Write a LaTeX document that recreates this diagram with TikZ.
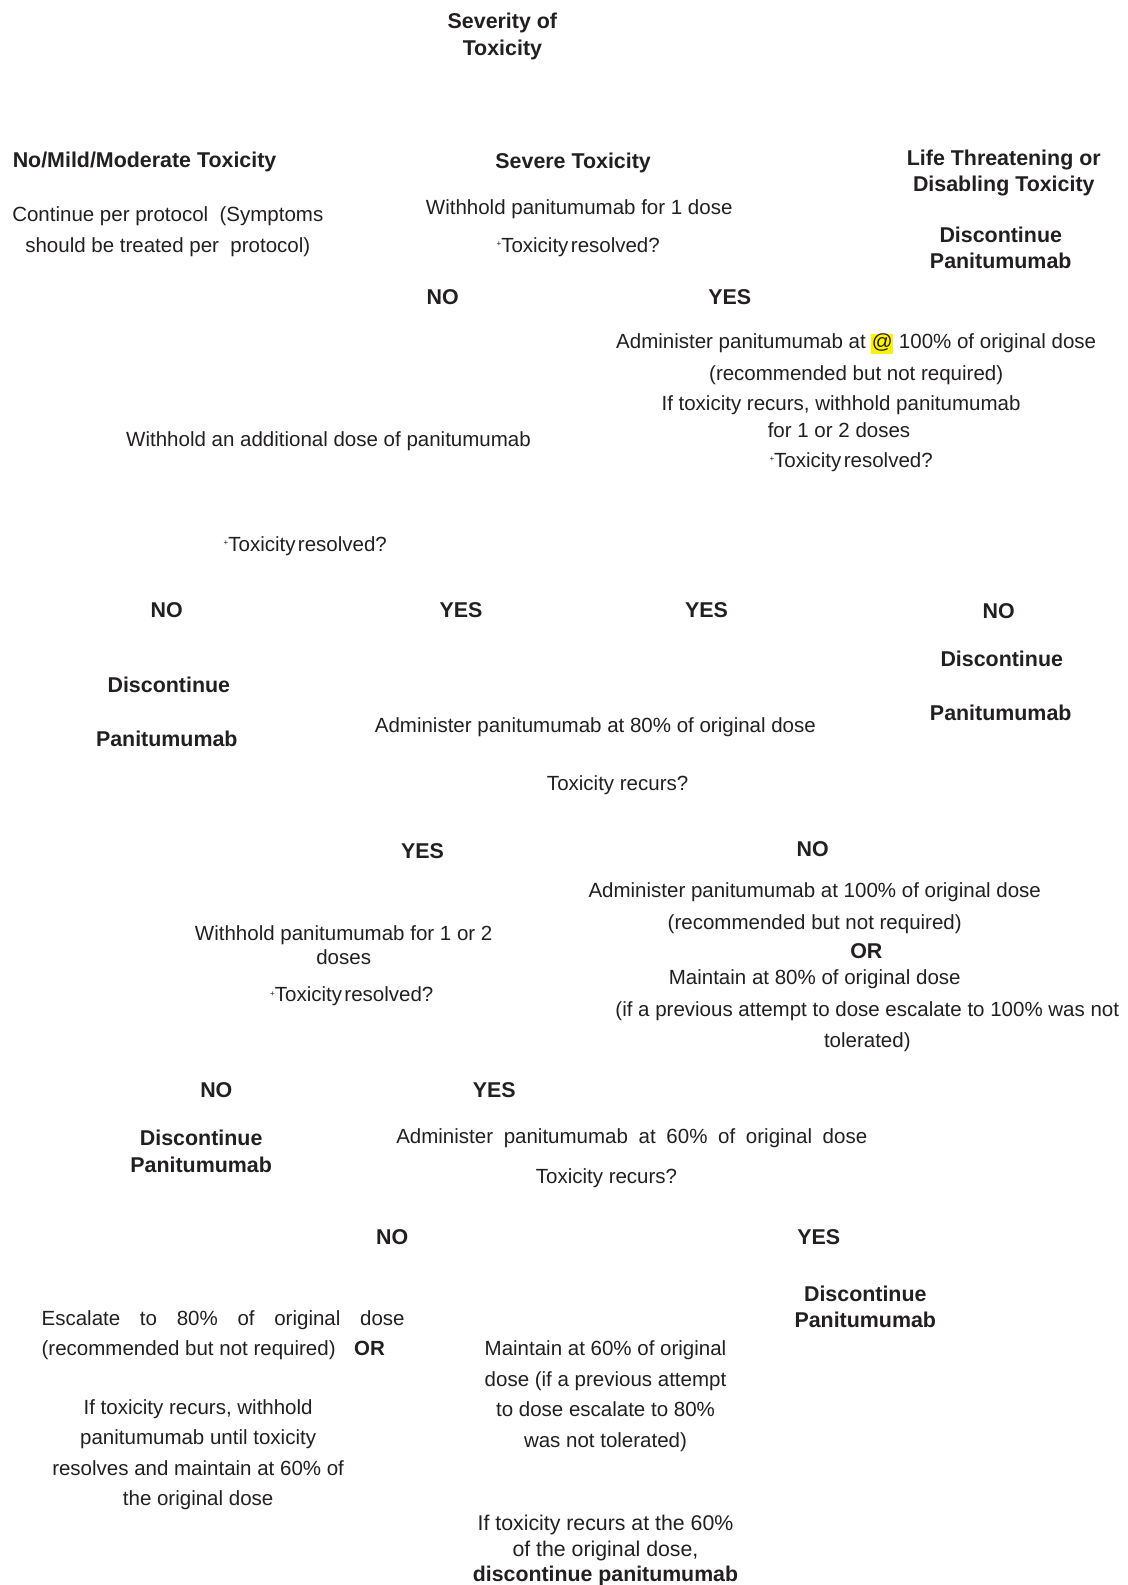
\documentclass[tikz,border=0pt]{standalone}
\usepackage{fontspec}
\setmainfont{Liberation Sans}
\definecolor{ink}{HTML}{231F20}
\definecolor{hlyel}{HTML}{FFF200}
\newcommand\plusmark{\raisebox{0.55ex}{\fontsize{8}{8}\selectfont +}}
\newcommand\hlat{{\setlength{\fboxsep}{0.5pt}\colorbox{hlyel}{\vphantom{Ag}@}}}
\tikzset{
  txt/.style={inner sep=0pt, text=ink, align=center, font=\fontsize{20.5}{30.5}\selectfont},
  hd/.style={inner sep=0pt, text=ink, align=center, font=\fontsize{21.4}{26.3}\selectfont\bfseries},
  tight/.style={txt, font=\fontsize{20.5}{23.5}\selectfont},
  lastblk/.style={txt, font=\fontsize{21.3}{25.5}\selectfont}
}
\begin{document}
\begin{tikzpicture}[x=1.0108pt,y=-1.0108pt, every node/.append style={yshift=-2pt}]
\useasboundingbox[fill=white] (0,0) rectangle (1115,1568);
% headings
\node[hd] (sev) at (497,34) {Severity of\\Toxicity};
\node[hd] (mild) at (143,158) {No/Mild/Moderate Toxicity};
\node[hd] (severe) at (567,159) {Severe Toxicity};
\node[hd] (life) at (993,169) {Life Threatening or\\Disabling Toxicity};
% first row
\node[txt] (cont) at (166,227) {Continue per protocol\ \ (Symptoms\\should be treated per\ \ protocol)};
\node[txt] (w1) at (573,205) {Withhold panitumumab for 1 dose};
\node[txt] (tr1) at (572,243) {\plusmark Toxicity\hspace{0.12em}resolved?};
\node[hd] (disc1) at (990,243) {Discontinue\\Panitumumab};
\node[hd] (no1) at (438,292) {NO};
\node[hd] (yes1) at (722,292) {YES};
% right block after YES
\node[txt] (a100a) at (847,338) {Administer panitumumab at \hlat\ 100\% of original dose};
\node[txt] (a100b) at (847,369) {(recommended but not required)};
\node[txt] (a100c) at (832,399) {If toxicity recurs, withhold panitumumab};
\node[txt] (a100d) at (830,424) {for 1 or 2 doses};
\node[txt] (tr2) at (842,455) {\plusmark Toxicity\hspace{0.12em}resolved?};
% left block after NO
\node[txt] (wadd) at (325,434) {Withhold an additional dose of panitumumab};
\node[txt] (tr3) at (302,538) {\plusmark Toxicity\hspace{0.12em}resolved?};
\node[hd] (no2) at (165,602) {NO};
\node[hd] (yes2) at (456,602) {YES};
\node[hd] (yes3) at (699,602) {YES};
\node[hd] (no3) at (988,603) {NO};
\node[hd] (discL1) at (167,676) {Discontinue};
\node[hd] (panL1) at (165,729) {Panitumumab};
\node[hd] (discR1) at (991,650) {Discontinue};
\node[hd] (panR1) at (990,703) {Panitumumab};
% 80% dose
\node[txt] (a80) at (589,717) {Administer panitumumab at 80\% of original dose};
\node[txt] (rec80) at (611,775) {Toxicity recurs?};
\node[hd] (yes4) at (418,840) {YES};
\node[hd] (no4) at (804,838) {NO};
\node[tight] (w12) at (340,933) {Withhold panitumumab for 1 or 2\\doses};
\node[txt] (tr4) at (348,984) {\plusmark Toxicity\hspace{0.12em}resolved?};
\node[txt] (b1) at (806,881) {Administer panitumumab at 100\% of original dose};
\node[txt] (b2) at (806,912) {(recommended but not required)};
\node[hd] (bor) at (857,939) {OR};
\node[txt] (b3) at (806,967) {Maintain at 80\% of original dose};
\node[txt] (b4) at (858,998) {(if a previous attempt to dose escalate to 100\% was not};
\node[txt] (b5) at (858,1029) {tolerated)};
\node[hd] (no5) at (214,1076) {NO};
\node[hd] (yes5) at (489,1076) {YES};
\node[hd] (disc3) at (199,1137) {Discontinue\\Panitumumab};
% 60% dose
\node[txt] (a60) at (625,1124) {\makebox[471pt][s]{Administer \hfill panitumumab \hfill at \hfill 60\% \hfill of \hfill original \hfill dose}};
\node[txt] (rec60) at (600,1164) {Toxicity recurs?};
\node[hd] (no6) at (388,1222) {NO};
\node[hd] (yes6) at (810,1222) {YES};
\node[hd] (disc4) at (856,1291) {Discontinue\\Panitumumab};
\node[txt, anchor=west] (esc1) at (41,1304) {\makebox[363pt][s]{Escalate \hfill to \hfill 80\% \hfill of \hfill original \hfill dose}};
\node[txt, anchor=west] (esc2) at (41,1334) {(recommended but not required)\hspace{0.9em}\textbf{OR}};
\node[txt] (esc3) at (196,1437) {If toxicity recurs, withhold\\panitumumab until toxicity\\resolves and maintain at 60\% of\\the original dose};
\node[txt] (m60) at (599,1379) {Maintain at 60\% of original\\dose (if a previous attempt\\to dose escalate to 80\%\\was not tolerated)};
\node[lastblk] (last) at (599,1532) {If toxicity recurs at the 60\%\\of the original dose,\\\textbf{discontinue panitumumab}};
\end{tikzpicture}
\end{document}
